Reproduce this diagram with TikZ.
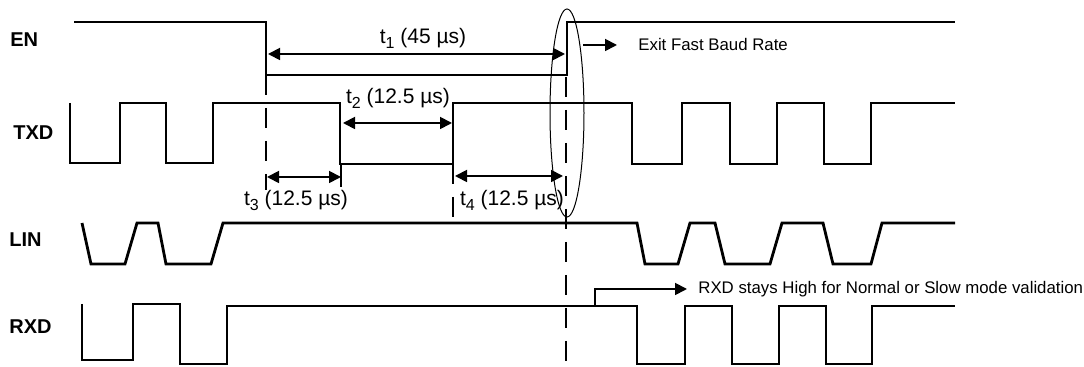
\documentclass[tikz,border=0pt]{standalone}
\usepackage{fontspec}
\setmainfont{Liberation Sans}
\usetikzlibrary{arrows.meta}
\newcommand{\tsub}[1]{\raisebox{-0.45ex}{\fontsize{8}{8}\selectfont #1}}

\begin{document}
\begin{tikzpicture}[x=0.5pt, y=-0.5pt,
  signal/.style={line width=1.4pt},
  guide/.style={line width=0.9pt, dash pattern=on 10pt off 6.5pt},
  timing/.style={line width=0.9pt, {Triangle[length=6pt,width=6pt]}-{Triangle[length=6pt,width=6pt]}},
  note/.style={line width=0.9pt, -{Triangle[length=6pt,width=6pt]}},
  pin/.style={font=\bfseries\fontsize{10}{12}\selectfont, anchor=west, inner sep=0pt},
  small/.style={font=\fontsize{8.4}{10}\selectfont, anchor=west, inner sep=0pt},
  value/.style={font=\fontsize{10.5}{12}\selectfont, inner sep=0pt}]
  \useasboundingbox (0,0) rectangle (1084,367);

  % signal names
  \node[pin] (EN) at (10, 40) {EN};
  \node[pin] (TXD) at (13, 133) {TXD};
  \node[pin] (LIN) at (9, 240) {LIN};
  \node[pin] (RXD) at (9, 327) {RXD};

  % waveforms
  \draw[signal] (74,22) -| (266,75) -| (567,22) -- (955,22);
  \draw[signal] (70,103) |- (120,163) |- (166,103) |- (213,163) |- (340,103)
    |- (453,164) |- (632,103) |- (682,164) |- (730,103) |- (777,164)
    |- (824,103) |- (871,164) |- (955,103);
  \draw[signal] (82,223) -- (91,264) -- (125,264) -- (137,223) -- (158,223)
    -- (166,264) -- (211,264) -- (223,223) -- (637,223) -- (645,264)
    -- (678,264) -- (690,223) -- (715,223) -- (725,264) -- (770,264)
    -- (782,223) -- (823,223) -- (833,264) -- (871,264) -- (882,223)
    -- (955,223);
  \draw[signal] (82,304) |- (133,360) |- (180,304) |- (227,364) |- (637,306)
    |- (685,364) |- (732,306) |- (779,364) |- (826,306) |- (872,364)
    |- (955,306);

  % guides
  \draw[guide] (266,75) -- (266,190);
  \draw[guide] (453,164) -- (453,217);
  \draw[guide] (566,77) -- (566,367);
  \draw[line width=0.9pt] (341,164) -- (341,187);
  \draw[line width=0.5pt] (567,113) ellipse (17 and 104);

  % timing intervals
  \coordinate (t1L) at (268,54);
  \coordinate (t1R) at (565,54);
  \coordinate (t2L) at (343,123);
  \coordinate (t2R) at (452,123);
  \coordinate (t3L) at (267,177);
  \coordinate (t3R) at (341,177);
  \coordinate (t4L) at (455,176);
  \coordinate (t4R) at (563,176);
  \draw[timing] (t1L) -- (t1R);
  \draw[timing] (t2L) -- (t2R);
  \draw[timing] (t3L) -- (t3R);
  \draw[timing] (t4L) -- (t4R);
  \node[value] (t1) at (423,38) {t\tsub{1} (45 µs)};
  \node[value] (t2) at (398,98) {t\tsub{2} (12.5 µs)};
  \node[value] (t3) at (296,200) {t\tsub{3} (12.5 µs)};
  \node[value] (t4) at (512,200) {t\tsub{4} (12.5 µs)};

  % notes
  \coordinate (exitA) at (583,45);
  \node[small] (exit) at (638,45) {Exit Fast Baud Rate};
  \draw[note] (exitA) -- ++(34,0);
  \coordinate (stayA) at (595,306);
  \node[small] (stay) at (698,289) {RXD stays High for Normal or Slow mode validation};
  \draw[note] (stayA) |- ([xshift=-5.5pt]stay.west);
\end{tikzpicture}
\end{document}
